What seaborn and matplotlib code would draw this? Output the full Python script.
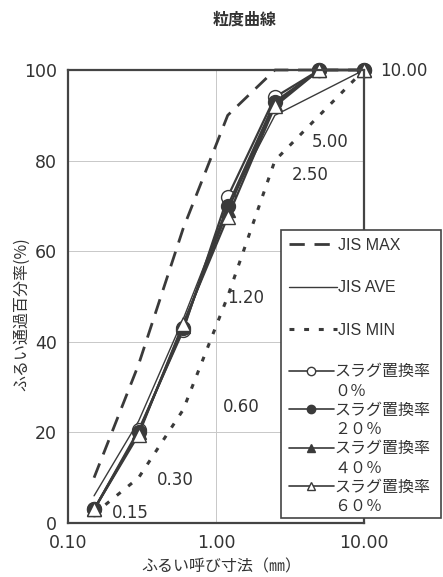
import matplotlib
matplotlib.use("Agg")
import matplotlib.pyplot as plt
import seaborn as sns
import numpy as np
import pandas as pd
from matplotlib.lines import Line2D
from matplotlib.patches import Rectangle

# ---------------- data ----------------
sieve = [0.15, 0.3, 0.6, 1.2, 2.5, 5.0, 10.0]
sieve_labels = ["0.15", "0.30", "0.60", "1.20", "2.50", "5.00", "10.00"]
jis_max = [10, 35, 65, 90, 100, 100, 100]
jis_ave = [6, 22.5, 45, 70, 90, 95, 100]
jis_min = [2, 10, 25, 50, 80, 90, 100]
slag_0 = [3, 20.5, 42.5, 72, 94, 100, 100]
slag_20 = [3, 20, 43, 70, 93, 100, 100]
slag_40 = [3, 20, 43.5, 69, 92.5, 100, 100]
slag_60 = [3, 19.5, 44, 67.5, 92, 100, 100]
slag_title = "スラグ置換率"
slag_rates = ["０％", "２０％", "４０％", "６０％"]
xticks = [0.1, 1.0, 10.0]
xtick_labels = ["0.10", "1.00", "10.00"]
yticks = [0, 20, 40, 60, 80, 100]
# label anchor positions (data coords) for sieve-size annotations
label_x = [0.198, 0.40, 1.11, 1.19, 3.27, 4.46, 12.8]
label_y = [2.2, 9.5, 25.6, 49.7, 76.8, 84.1, 99.8]

sns.set_style("white")
plt.rcParams['font.family'] = ['DejaVu Sans', 'Noto Sans CJK JP']
JP = ['Noto Sans CJK JP', 'DejaVu Sans']

INK = "#333333"
fig = plt.figure(figsize=(4.43, 5.77), dpi=100)
ax = fig.add_axes([68/443, 1-523/577, (364-68)/443, (523-70)/577])

LC = "#3a3a3a"
sns.lineplot(x=sieve, y=jis_max, ax=ax, color=LC, lw=2.0,
             linestyle=(0, (5.5, 3.5)), label="JIS MAX")
sns.lineplot(x=sieve, y=jis_ave, ax=ax, color=LC, lw=1.0, label="JIS AVE")
sns.lineplot(x=sieve, y=jis_min, ax=ax, color=LC, lw=2.2,
             linestyle=(0, (1.6, 3.2)), label="JIS MIN")

styles = [("o", "white"), ("o", LC), ("^", LC), ("^", "white")]
slag_series = [slag_0, slag_20, slag_40, slag_60]
for vals, (mk, fc), rate in zip(slag_series, styles, slag_rates):
    sns.lineplot(x=sieve, y=vals, ax=ax, color=LC, lw=1.6, marker=mk,
                 markersize=10, markerfacecolor=fc, markeredgecolor=LC,
                 markeredgewidth=1.0, label=slag_title + rate)

for ln in ax.lines:
    ln.set_clip_on(False)

handles, labels = ax.get_legend_handles_labels()
if ax.get_legend() is not None:
    ax.get_legend().remove()

ax.set_xscale("log")
ax.set_xlim(0.1, 10)
ax.set_ylim(0, 100)
ax.set_xticks(xticks)
ax.set_xticklabels(xtick_labels)
ax.set_yticks(yticks)
ax.minorticks_off()
ax.tick_params(length=0, labelsize=12.5, colors=INK, pad=8)
ax.grid(True, color="#c8c8c8", lw=0.7)
for s in ax.spines.values():
    s.set_visible(True)
    s.set_color("#444444")
    s.set_linewidth(1.6)
ax.set_xlabel("")
ax.set_ylabel("")

for lx, ly, txt in zip(label_x, label_y, sieve_labels):
    ax.text(lx, ly, txt, fontsize=12, color=INK, ha="left", va="center",
            clip_on=False)

fig.text(245/443, 1-20/577, "粒度曲線", fontsize=11.5, color=INK,
         ha="center", va="center", family=JP, fontweight="bold")
fig.text(22/443, 1-314/577, "ふるい通過百分率(%)", fontsize=11.5, color=INK,
         ha="center", va="center", rotation=90, family=JP)
fig.text(221/443, 1-567/577, "ふるい呼び寸法（㎜）", fontsize=11.5, color=INK,
         ha="center", va="center", family=JP)

# legend frame
fig.patches.append(Rectangle((281/443, 1-518/577), (441-281)/443, (518-230)/577,
                             transform=fig.transFigure, facecolor="white",
                             edgecolor="#444444", lw=1.2, zorder=5))

legA = fig.legend(handles[:3], labels[:3], loc="upper left",
                  bbox_to_anchor=(284/443, 1-233/577), frameon=False,
                  handlelength=3.0, handletextpad=0.05, labelspacing=1.72,
                  borderpad=0.3, borderaxespad=0,
                  prop={'family': ['Liberation Sans', 'DejaVu Sans'], 'size': 11.5})
legA.set_zorder(6)
for t in legA.get_texts():
    t.set_color(INK)

ghost = Line2D([], [], alpha=0)
hB, lB = [], []
for h, rate in zip(handles[3:], slag_rates):
    h2 = Line2D([], [], color=LC, lw=1.2, marker=h.get_marker(), markersize=6,
                markerfacecolor=h.get_markerfacecolor(), markeredgecolor=LC)
    hB += [h2, ghost]
    lB += [slag_title, rate]
legB = fig.legend(hB, lB, loc="upper left",
                  bbox_to_anchor=(284/443, 1-358.5/577), frameon=False,
                  handlelength=2.8, handletextpad=0.05, labelspacing=0.14,
                  borderpad=0.3, borderaxespad=0,
                  prop={'family': JP, 'size': 11.5})
legB.set_zorder(6)
for t in legB.get_texts():
    t.set_color(INK)

fig.savefig("out.png", dpi=100)
